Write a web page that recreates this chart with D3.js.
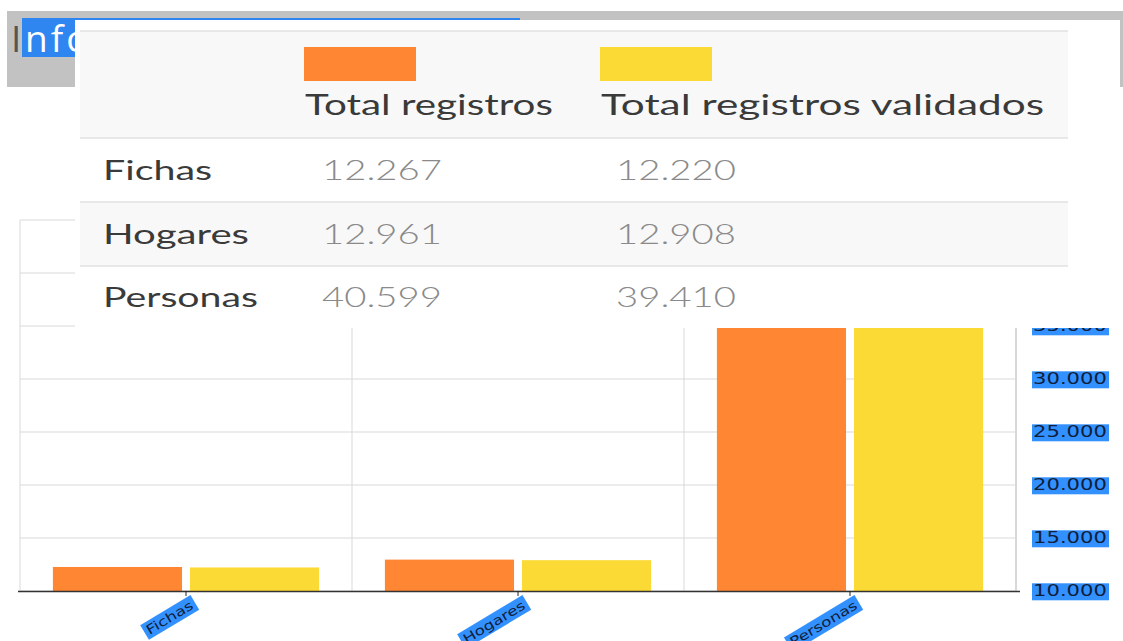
<!DOCTYPE html>
<html>
<head>
<meta charset="utf-8">
<script src="https://cdn.jsdelivr.net/npm/d3@7"></script>
<style>
  body { margin: 0; background: #fff; }
  svg { display: block; }
</style>
</head>
<body>
<div id="chart"></div>
<script>
// podaci
const categories = ["Fichas", "Hogares", "Personas"];
const seriesNames = ["Total registros", "Total registros validados"];
const totalRegistros = [12267, 12961, 40599];
const totalValidados = [12220, 12908, 39410];
const yTicks = [10000, 15000, 20000, 25000, 30000, 35000, 40000, 45000];
const colors = ["#ff8633", "#fbda35"];

const data = categories.map((c, i) => ({
    cat: c,
    values: [totalRegistros[i], totalValidados[i]]
}));

const locale = d3.formatLocale({ decimal: ",", thousands: ".", grouping: [3], currency: ["$", ""] });
const fmt = locale.format(",d");

// dimenzije
const W = 1123, H = 641;
const plot = { left: 20, right: 1016, top: 220, bottom: 591 };

const svg = d3.select("#chart").append("svg")
    .attr("width", W)
    .attr("height", H);

// naslov (pozadina)
svg.append("rect")
    .attr("x", 7).attr("y", 11).attr("width", 1116).attr("height", 76)
    .attr("fill", "#c2c2c2");
svg.append("rect")
    .attr("x", 22).attr("y", 18).attr("width", 498).attr("height", 3)
    .attr("fill", "#2f86f0");
svg.append("rect")
    .attr("x", 22).attr("y", 18).attr("width", 60).attr("height", 39)
    .attr("fill", "#2f86f0");
const title = svg.append("text")
    .attr("y", 52)
    .attr("font-family", "Open Sans, sans-serif")
    .attr("font-size", 37)
    .attr("fill", "#fff");
title.append("tspan").attr("x", 11).attr("fill", "#555").text("I");
title.append("tspan").attr("x", 25).attr("letter-spacing", 3).text("nforme");

// mjerila
const x0 = d3.scaleBand()
    .domain(categories)
    .range([plot.left, plot.right])
    .padding(0);

const x1 = d3.scaleBand()
    .domain(seriesNames)
    .range([0, x0.bandwidth()])
    .paddingInner(0.058)
    .paddingOuter(0.24);

const y = d3.scaleLinear()
    .domain([10000, 45000])
    .range([plot.bottom, plot.top]);

const g = svg.append("g");

// mreza
g.append("g")
    .selectAll("line")
    .data(yTicks)
    .join("line")
    .attr("x1", plot.left).attr("x2", plot.right)
    .attr("y1", d => y(d)).attr("y2", d => y(d))
    .attr("stroke", "#d9d9d9");

g.append("g")
    .selectAll("line")
    .data(categories)
    .join("line")
    .attr("x1", d => x0(d)).attr("x2", d => x0(d))
    .attr("y1", plot.top).attr("y2", plot.bottom)
    .attr("stroke", "#d9d9d9");

g.append("line")
    .attr("x1", plot.right).attr("x2", plot.right)
    .attr("y1", plot.top).attr("y2", plot.bottom)
    .attr("stroke", "#d8d8d8")
    .attr("stroke-width", 2);

// stupci
g.append("g")
    .selectAll("g")
    .data(data)
    .join("g")
    .attr("transform", d => `translate(${x0(d.cat)},0)`)
    .selectAll("rect")
    .data(d => d.values.map((v, i) => ({ key: seriesNames[i], v, i })))
    .join("rect")
    .attr("x", d => x1(d.key))
    .attr("width", x1.bandwidth())
    .attr("y", d => y(d.v))
    .attr("height", d => y(10000) - y(d.v))
    .attr("fill", d => colors[d.i]);

// x os
const xAxis = g.append("g")
    .attr("transform", `translate(0,${plot.bottom})`)
    .call(d3.axisBottom(x0).tickSizeOuter(0).tickSizeInner(5));
xAxis.select(".domain")
    .attr("d", `M${plot.left - 2},0.5H${plot.right + 4}`)
    .attr("stroke", "#333")
    .attr("stroke-width", 1.5);
xAxis.selectAll(".tick line").attr("stroke", "#222");
xAxis.selectAll(".tick text").remove();

xAxis.selectAll(".tick").each(function(d) {
    const t = d3.select(this);
    const lg = t.append("g").attr("transform", "translate(6,13) rotate(-31)");
    const txt = lg.append("text")
        .attr("text-anchor", "end")
        .attr("font-family", "DejaVu Sans, Verdana, sans-serif")
        .attr("font-size", 13)
        .attr("fill", "#10203a")
        .attr("dy", "0.35em")
        .text(d);
    const len = txt.node().getComputedTextLength();
    txt.attr("textLength", len * 1.3).attr("lengthAdjust", "spacingAndGlyphs");
    const b = txt.node().getBBox();
    lg.insert("rect", "text")
        .attr("x", b.x - 3).attr("y", b.y - 1)
        .attr("width", b.width + 6).attr("height", b.height + 2)
        .attr("fill", "#3391ff");
});

// y os (desno)
const yAxis = g.append("g")
    .attr("transform", `translate(${plot.right},0)`)
    .call(d3.axisRight(y).tickValues(yTicks).tickFormat(fmt).tickSize(0).tickPadding(17));
yAxis.select(".domain").remove();
yAxis.selectAll(".tick text")
    .attr("font-family", "DejaVu Sans, Verdana, sans-serif")
    .attr("font-size", 15)
    .attr("fill", "#10203a")
    .attr("textLength", 74)
    .attr("lengthAdjust", "spacingAndGlyphs");
yAxis.selectAll(".tick").each(function() {
    const t = d3.select(this);
    const b = t.select("text").node().getBBox();
    t.insert("rect", "text")
        .attr("x", b.x - 1).attr("y", b.y + 1)
        .attr("width", 77).attr("height", b.height - 1)
        .attr("fill", "#3391ff");
});

// tablica preko grafa
const tbl = svg.append("g");
tbl.append("rect")
    .attr("x", 75).attr("y", 20).attr("width", 1045).attr("height", 308)
    .attr("fill", "#fff");
tbl.append("rect")
    .attr("x", 80).attr("y", 31).attr("width", 988).attr("height", 107)
    .attr("fill", "#f8f8f8");
tbl.append("rect")
    .attr("x", 80).attr("y", 202).attr("width", 988).attr("height", 64)
    .attr("fill", "#f8f8f8");
tbl.selectAll("line.row")
    .data([31, 138, 202, 266])
    .join("line")
    .attr("class", "row")
    .attr("x1", 80).attr("x2", 1068)
    .attr("y1", d => d).attr("y2", d => d)
    .attr("stroke", "#e2e2e2")
    .attr("stroke-width", 1.5);

const colX = [304, 600];
const headW = [248, 443];
tbl.selectAll("rect.sw")
    .data(seriesNames)
    .join("rect")
    .attr("class", "sw")
    .attr("x", (d, i) => colX[i]).attr("y", 47)
    .attr("width", 112).attr("height", 34)
    .attr("fill", (d, i) => colors[i]);
tbl.selectAll("text.head")
    .data(seriesNames)
    .join("text")
    .attr("class", "head")
    .attr("x", (d, i) => colX[i] + 1).attr("y", 115)
    .attr("font-family", "Lato, sans-serif")
    .attr("font-size", 28)
    .attr("fill", "#3a3a3a")
    .attr("textLength", (d, i) => headW[i])
    .attr("lengthAdjust", "spacingAndGlyphs")
    .text(d => d);

const rowY = [180, 244, 307];
const labW = [109, 146, 155];
tbl.selectAll("text.lab")
    .data(categories)
    .join("text")
    .attr("class", "lab")
    .attr("x", 103).attr("y", (d, i) => rowY[i])
    .attr("font-family", "Lato, sans-serif")
    .attr("font-size", 27)
    .attr("fill", "#3a3a3a")
    .attr("textLength", (d, i) => labW[i])
    .attr("lengthAdjust", "spacingAndGlyphs")
    .text(d => d);

data.forEach((d, r) => {
    d.values.forEach((v, c) => {
        tbl.append("text")
            .attr("x", c === 0 ? 322 : 616).attr("y", rowY[r])
            .attr("font-family", "Lato, sans-serif")
            .attr("font-weight", 300)
            .attr("font-size", 27)
            .attr("fill", "#8a8a8a")
            .attr("textLength", 120)
            .attr("lengthAdjust", "spacingAndGlyphs")
            .text(fmt(v));
    });
});
</script>
</body>
</html>
